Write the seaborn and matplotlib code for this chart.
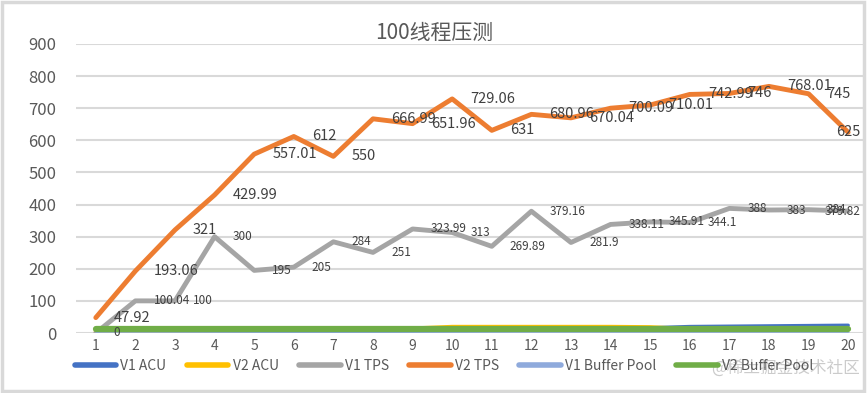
import numpy as np
import pandas as pd
import matplotlib
matplotlib.use("Agg")
import matplotlib.pyplot as plt
from matplotlib.patches import Rectangle
import seaborn as sns

# ---- data ----
threads = list(range(1, 21))
v1_acu = [1, 1, 2, 2, 3, 3, 4, 5, 6, 7, 8, 9, 10, 11, 16, 20, 21, 22, 23, 24]
v2_acu = [5, 6, 7, 8, 9, 10, 11, 12, 14, 19, 19, 19, 19, 19, 18, 12, 12, 12, 12, 12]
v1_tps = [0, 100.04, 100, 300, 195, 205, 284, 251, 323.99, 313,
          269.89, 379.16, 281.9, 338.11, 345.91, 344.1, 388, 383, 384, 379.82]
v2_tps = [47.92, 193.06, 321, 429.99, 557.01, 612, 550, 666.99, 651.96, 729.06,
          631, 680.96, 670.04, 700.09, 710.01, 742.99, 746, 768.01, 745, 625]
v1_bp = [1] * 20
v2_bp = [11] * 20

series_names = ["V1 ACU", "V2 ACU", "V1 TPS", "V2 TPS", "V1 Buffer Pool", "V2 Buffer Pool"]
series_vals = [v1_acu, v2_acu, v1_tps, v2_tps, v1_bp, v2_bp]
colors = ["#4472C4", "#FFC000", "#A5A5A5", "#ED7D31", "#8FAADC", "#70AD47"]
widths = [2.5, 3.0, 3.5, 3.5, 2.0, 4.5]

sns.set_theme(style="white")
plt.rcParams["font.family"] = ["Noto Sans CJK SC", "DejaVu Sans"]

fig = plt.figure(figsize=(8.67, 3.93), dpi=100)
ax = fig.add_axes([76 / 867, 1 - 333 / 393, 788 / 867, 289 / 393])

for name, vals, c, lw in zip(series_names, series_vals, colors, widths):
    sns.lineplot(x=threads, y=vals, ax=ax, color=c, linewidth=lw, label=name,
                 solid_capstyle="round", solid_joinstyle="round")

# data labels (only TPS series carry labels)
txt_col = "#404040"
for vals, fs in [(v1_tps, 8.5), (v2_tps, 10.5)]:
    for i, (x, v) in enumerate(zip(threads, vals)):
        lab = f"{v:g}"
        if i == len(vals) - 1:
            ax.annotate(lab, (x, v), xytext=(9, 0), textcoords="offset points",
                        ha="right", va="center", fontsize=fs, color=txt_col)
        else:
            ax.annotate(lab, (x, v), xytext=(13, 0), textcoords="offset points",
                        ha="left", va="center", fontsize=fs, color=txt_col)

ax.set_xlim(0.5, 20.4)
ax.set_ylim(0, 900)
ax.set_yticks(np.arange(0, 901, 100))
ax.set_xticks(threads)
ax.set_xticklabels([str(t) for t in threads])
ax.grid(axis="y", color="#d9d9d9", linewidth=1.5)
ax.set_axisbelow(True)
for s in ax.spines.values():
    s.set_visible(False)
ax.tick_params(axis="y", labelsize=12, colors="#595959", length=0, pad=14)
ax.tick_params(axis="x", labelsize=10, colors="#595959", length=0, pad=4)
ax.set_xlabel("")
ax.set_ylabel("")

fig.text(434 / 867, 1 - 33 / 393, "100线程压测", ha="center", va="center",
         fontsize=15, color="#595959")

ax.get_legend().remove()
handles, labels = ax.get_legend_handles_labels()
leg = fig.legend(handles, labels, loc="center", bbox_to_anchor=(444 / 867, 1 - 366 / 393),
                 ncol=6, frameon=False, fontsize=10, handlelength=3, handletextpad=0.3,
                 columnspacing=1.45)
for t in leg.get_texts():
    t.set_color("#595959")
for h in leg.legend_handles:
    h.set_linewidth(4)

fig.text(860 / 867, 1 - 368 / 393, "@稀土掘金技术社区", ha="right", va="center",
         fontsize=12, color="#bfbfbf", alpha=0.8)

fig.patches.append(Rectangle((0.002, 0.004), 0.995, 0.992, transform=fig.transFigure,
                             fill=False, edgecolor="#d9d9d9", linewidth=2.5))

fig.savefig("out.png", dpi=100)
